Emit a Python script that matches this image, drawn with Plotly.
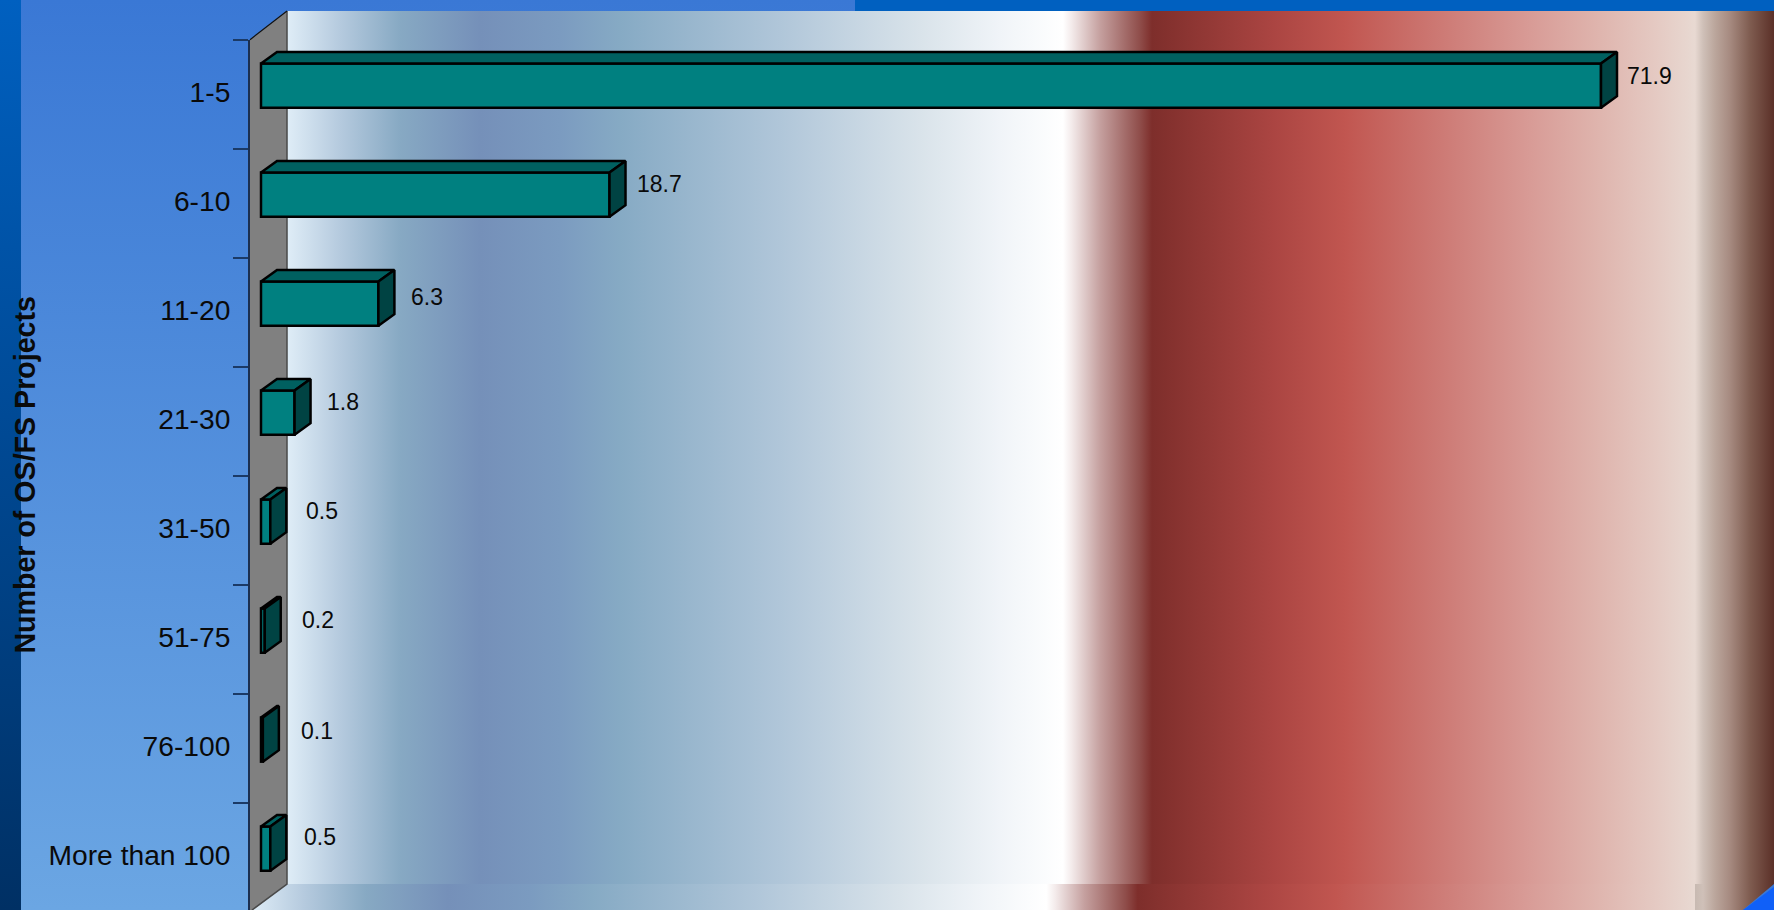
import plotly.graph_objects as go

# ---- data ----
categories = ["1-5", "6-10", "11-20", "21-30", "31-50", "51-75", "76-100", "More than 100"]
values = [71.9, 18.7, 6.3, 1.8, 0.5, 0.2, 0.1, 0.5]
value_labels = ["71.9", "18.7", "6.3", "1.8", "0.5", "0.2", "0.1", "0.5"]
axis_title = "Number of OS/FS Projects"

# ---- label nudges (px) ----
label_dx = [23.5, 25.2, 30.4, 30.2, 33.8, 35.4, 36.4, 31.5]
label_dy = [18.5, 19.5, 15.2, 19, 19.5, 19.5, 17.5, 20.5]

# ---- styles ----
W, H = 1774, 910
FRONT, TOP, SIDE = "#008080", "#006060", "#004343"
wall_stops_x = [287, 340, 400, 480, 560, 620, 780, 920, 1000, 1063, 1072, 1100, 1140, 1152,
                1274, 1345, 1450, 1530, 1600, 1660, 1695, 1703, 1715, 1730, 1750, 1774]
wall_stops_c = ["#dfedf7", "#b5cade", "#87a9c3", "#7590b9", "#7b9bc0", "#86aac4", "#b0c6d9",
                "#d9e3ea", "#f0f4f8", "#ffffff", "#f3eaea", "#c5a09f", "#8f4d4a", "#7e2e2b",
                "#ab4542", "#c15650", "#ce7d78", "#d89b96", "#dfb5ae", "#e5cbc4", "#e8d9d2",
                "#cfc0b8", "#bba69c", "#a68a80", "#7f5c50", "#5b3028"]

# plot geometry in px
x0_px, px_per_unit = 261.0, (1601.0 - 261.0) / 71.9
plot_left, top_px, band_px = 250.0, 39.7, 109.0
depth_px_x, depth_px_y = 16.0, 11.5
bar_width, bar_offset = 0.405, -0.2815

x_range = [(plot_left - x0_px) / px_per_unit, (W - x0_px) / px_per_unit]
y_range = [(H - top_px) / band_px - 0.5, -0.5]
dx = depth_px_x / px_per_unit
dy = depth_px_y / band_px

fig = go.Figure()


def grad_poly(xs, ys, stops_pos, stops_col, kind, start, stop, name):
    span = stop - start
    scale = [[(p - start) / span, c] for p, c in zip(stops_pos, stops_col)]
    fig.add_trace(go.Scatter(
        x=xs, y=ys, mode="lines", line=dict(width=0), fill="toself", hoverinfo="skip",
        showlegend=False, name=name, xaxis="x", yaxis="y",
        fillgradient=dict(type=kind, colorscale=scale, start=start, stop=stop)))


def poly(xs, ys, color, name, line_color=None, lw=0, xa="x", ya="y"):
    fig.add_trace(go.Scatter(
        x=xs, y=ys, mode="lines", fill="toself", fillcolor=color, hoverinfo="skip",
        line=dict(width=lw, color=line_color or color), showlegend=False, name=name,
        xaxis=xa, yaxis=ya))


# ---- slide background (px axes) ----
grad_poly([21, 855, 855, 21, 21], [0, 0, H, H, 0], [0, H], ["#3a78d5", "#6ba6e3"],
          "vertical", 0, H, "panel")
poly([855, W, W, 855, 855], [0, 0, 11, 11, 0], "#0060c0", "top band")
grad_poly([0, 21, 21, 0, 0], [0, 0, H, H, 0], [0, H], ["#0060c0", "#003064"],
          "vertical", 0, H, "stripe")

# back wall
grad_poly([287, W, W, 287, 287], [11, 11, 884, 884, 11], wall_stops_x, wall_stops_c,
          "horizontal", 287, W, "back wall")
# floor: same colours stretched from the front corner up to the step at x=1695
floor_x = [250 + (x - 287) * 1445 / 1408 if x <= 1695 else x for x in wall_stops_x]
floor_x[21:21] = [1695.5]
floor_c = wall_stops_c[:21] + ["#c8bab2"] + wall_stops_c[21:]
grad_poly([287, W, 1743, 250, 287], [884, 884, H, H, 884], floor_x, floor_c,
          "horizontal", 250, W, "floor")
poly([1743, W, W, 1743], [H, 887, H, H], "#1060f8", "corner")
# side wall
poly([250, 287, 287, 250, 250], [39.7, 11, 884, 912, 39.7], "#808080", "side wall")
fig.add_trace(go.Scatter(x=[287, 287, 252], y=[11, 884, 910], mode="lines",
                         line=dict(color="#4a4a4a", width=1.5), hoverinfo="skip",
                         showlegend=False, xaxis="x", yaxis="y"))
fig.add_trace(go.Scatter(x=[250, 287], y=[39.7, 11], mode="lines",
                         line=dict(color="#101010", width=1.2), hoverinfo="skip",
                         showlegend=False, xaxis="x", yaxis="y"))

# ---- bars ----
fig.add_trace(go.Bar(
    y=categories, x=values, orientation="h", width=bar_width, offset=bar_offset,
    marker=dict(color=FRONT, line=dict(color="#000000", width=2.5)),
    showlegend=False, xaxis="x2", yaxis="y2", hoverinfo="skip"))

for i, v in enumerate(values):
    y_t = i + bar_offset
    y_b = y_t + bar_width
    poly([0, dx, v + dx, v, 0], [y_t, y_t - dy, y_t - dy, y_t, y_t], TOP, f"top {i}",
         "#000000", 2.5, "x2", "y3")
    poly([v, v + dx, v + dx, v, v], [y_t, y_t - dy, y_b - dy, y_b, y_t], SIDE, f"side {i}",
         "#000000", 2.5, "x2", "y3")

# ---- value labels ----
annotations = [
    dict(x=v, y=c, xref="x2", yref="y2", text=t, showarrow=False, xanchor="left",
         yanchor="middle", xshift=sx, yshift=sy,
         font=dict(family="Liberation Sans", size=23, color="#0a0a0a"))
    for v, c, t, sx, sy in zip(values, categories, value_labels, label_dx, label_dy)
]

fig.update_layout(
    width=W, height=H, margin=dict(l=0, r=0, t=0, b=0), autosize=False,
    paper_bgcolor="#3a78d5", plot_bgcolor="rgba(0,0,0,0)", barmode="overlay",
    showlegend=False, annotations=annotations,
    font=dict(family="Liberation Sans", color="#0a0a0a"),
    xaxis=dict(domain=[0, 1], range=[0, W], visible=False, fixedrange=True, anchor="y"),
    yaxis=dict(domain=[0, 1], range=[H, 0], visible=False, fixedrange=True, anchor="x"),
    xaxis2=dict(domain=[plot_left / W, 1], range=x_range, visible=False, anchor="y2"),
    yaxis2=dict(
        domain=[0, 1 - top_px / H], range=y_range, anchor="x2", type="category",
        categoryorder="array", categoryarray=categories, tickson="boundaries",
        ticks="outside", ticklen=15, tickwidth=1.5, tickcolor="#1b3a66",
        showline=True, linecolor="#1b2f50", linewidth=2, showgrid=False, zeroline=False,
        ticklabelstandoff=12, ticklabelshift=2,
        tickfont=dict(family="Liberation Sans", size=28.2, color="#0a0a0a"),
        title=dict(text=f"<b>{axis_title}</b>", standoff=5,
                   font=dict(family="Liberation Sans", size=28.6, color="#0a0a0a"))),
    yaxis3=dict(overlaying="y2", range=y_range, visible=False, anchor="x2"),
)

fig.write_html("out.html", config=dict(displayModeBar=False),
               post_script="document.body.style.margin='0';document.body.style.overflow='hidden';")
